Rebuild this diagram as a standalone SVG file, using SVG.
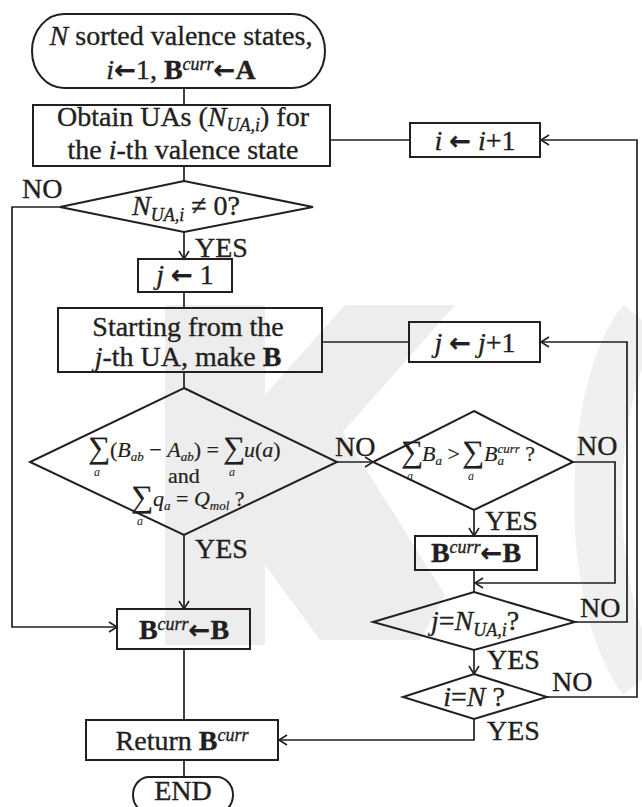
<svg xmlns="http://www.w3.org/2000/svg" width="642" height="807" viewBox="0 0 642 807">
<style>
text{font-family:"Liberation Serif","Times New Roman",serif;font-size:28px;fill:#231f20;stroke:#231f20;stroke-width:0.35}
.it{font-style:italic}
.b{font-weight:bold}
.ar{font-family:"DejaVu Sans",sans-serif;font-weight:bold;font-size:26px}
.nd{fill:none;stroke:#231f20;stroke-width:2}
.ln{fill:none;stroke:#231f20;stroke-width:1.7}
.wm{fill:#ededed;stroke:none}
.f{font-size:22px;stroke-width:0.2}
.sg{font-size:31px;stroke-width:0.2}
.lim{font-size:12px;font-style:italic;stroke-width:0}
</style>
<defs>
<marker id="ah" markerWidth="12" markerHeight="12" refX="10" refY="6" orient="auto" markerUnits="userSpaceOnUse">
<path d="M2,1 L10,6 L2,11" fill="none" stroke="#231f20" stroke-width="1.6"/>
</marker>
</defs>
<rect width="642" height="807" fill="#ffffff"/>
<g id="watermark">
<rect class="wm" x="165" y="305" width="100" height="340"/>
<polygon class="wm" points="265,395 345,305 455,305 265,520"/>
<polygon class="wm" points="265,470 335,420 445,595 420,640 320,640 265,565"/>
<path d="M642 320 C585 390 582 600 642 680" fill="none" stroke="#f0f0f0" stroke-width="48"/>
</g>
<g id="connectors">
<path class="ln" d="M184 88 V105"/>
<path class="ln" d="M184 166 V181"/>
<path class="ln" d="M184 232 V259" marker-end="url(#ah)"/>
<path class="ln" d="M184 292 V308"/>
<path class="ln" d="M184 372 V388"/>
<path class="ln" d="M184 535 V609" marker-end="url(#ah)"/>
<path class="ln" d="M337 462 H373" marker-end="url(#ah)"/>
<path class="ln" d="M60 207 H12 V627 H117" marker-end="url(#ah)"/>
<path class="ln" d="M474 510 V536" marker-end="url(#ah)"/>
<path class="ln" d="M573 462 H615 V583 H475" marker-end="url(#ah)"/>
<path class="ln" d="M474 570 V592"/>
<path class="ln" d="M474 650 V674" marker-end="url(#ah)"/>
<path class="ln" d="M575 622 H627 V342 H541" marker-end="url(#ah)"/>
<path class="ln" d="M409 342 H322"/>
<path class="ln" d="M547 697 H637 V140 H541" marker-end="url(#ah)"/>
<path class="ln" d="M410 140 H330"/>
<path class="ln" d="M474 719 V740 H279" marker-end="url(#ah)"/>
<path class="ln" d="M184 649 V720"/>
<path class="ln" d="M184 760 V777"/>
</g>
<g id="labels">
<text x="22" y="198">NO</text>
<text x="195" y="257">YES</text>
<text x="335" y="456">NO</text>
<text x="195" y="558">YES</text>
<text x="577" y="455">NO</text>
<text x="485" y="530">YES</text>
<text x="580" y="617">NO</text>
<text x="487" y="669">YES</text>
<text x="552" y="691">NO</text>
<text x="487" y="740">YES</text>
</g>
<g id="start">
<rect class="nd" x="32" y="14" width="293" height="74" rx="32" ry="37"/>
<text x="181" y="45" text-anchor="middle"><tspan class="it">N</tspan> sorted valence states,</text>
<text x="181" y="79" text-anchor="middle"><tspan class="it">i</tspan><tspan class="ar">←</tspan>1, <tspan class="b">B</tspan><tspan class="it" font-size="18" baseline-shift="9">curr</tspan><tspan class="ar">←</tspan><tspan class="b">A</tspan></text>
</g>
<g id="obtain">
<rect class="nd" x="33" y="105" width="297" height="61"/>
<text x="183" y="126" text-anchor="middle">Obtain UAs (<tspan class="it">N</tspan><tspan class="it" font-size="18" baseline-shift="-5">UA,i</tspan>) for</text>
<text x="183" y="159" text-anchor="middle">the <tspan class="it">i</tspan>-th valence state</text>
</g>
<g id="inc-i">
<rect class="nd" x="410" y="123" width="130" height="34"/>
<text x="475" y="150" text-anchor="middle"><tspan class="it">i</tspan> <tspan class="ar">←</tspan> <tspan class="it">i</tspan>+1</text>
</g>
<g id="check-nua">
<polygon class="nd" points="184,181 313,207 184,232 60,207"/>
<text x="186" y="215" text-anchor="middle"><tspan class="it">N</tspan><tspan class="it" font-size="18" baseline-shift="-6">UA,i</tspan> ≠ 0?</text>
</g>
<g id="j-init">
<rect class="nd" x="138" y="259" width="94" height="33"/>
<text x="185" y="284" text-anchor="middle"><tspan class="it">j</tspan> <tspan class="ar">←</tspan> 1</text>
</g>
<g id="make-b">
<rect class="nd" x="58" y="308" width="264" height="64"/>
<text x="188" y="336" text-anchor="middle">Starting from the</text>
<text x="188" y="366" text-anchor="middle"><tspan class="it">j</tspan>-th UA, make <tspan class="b">B</tspan></text>
</g>
<g id="inc-j">
<rect class="nd" x="409" y="322" width="131" height="40"/>
<text x="475" y="352" text-anchor="middle"><tspan class="it">j</tspan> <tspan class="ar">←</tspan> <tspan class="it">j</tspan>+1</text>
</g>
<g id="check-valid">
<polygon class="nd" points="184,388 337,462 184,535 30,462"/>
<text x="88" y="458" class="sg">∑</text>
<text x="97" y="476" class="lim" text-anchor="middle">a</text>
<text x="110" y="457" class="f">(<tspan class="it">B</tspan><tspan class="it" font-size="13" baseline-shift="-4">ab</tspan> − <tspan class="it">A</tspan><tspan class="it" font-size="13" baseline-shift="-4">ab</tspan>) =</text>
<text x="223" y="458" class="sg">∑</text>
<text x="232" y="476" class="lim" text-anchor="middle">a</text>
<text x="244" y="457" class="f"><tspan class="it">u</tspan>(<tspan class="it">a</tspan>)</text>
<text x="184" y="483" class="f" text-anchor="middle">and</text>
<text x="131" y="507" class="sg">∑</text>
<text x="140" y="525" class="lim" text-anchor="middle">a</text>
<text x="153" y="506" class="f"><tspan class="it">q</tspan><tspan class="it" font-size="13" baseline-shift="-4">a</tspan> = <tspan class="it">Q</tspan><tspan class="it" font-size="13" baseline-shift="-4">mol</tspan> ?</text>
</g>
<g id="check-better">
<polygon class="nd" points="474,411 573,462 474,510 373,462"/>
<text x="401" y="462" class="sg">∑</text>
<text x="410" y="480" class="lim" text-anchor="middle">a</text>
<text x="422" y="461" class="f"><tspan class="it">B</tspan><tspan class="it" font-size="13" baseline-shift="-4">a</tspan> &gt;</text>
<text x="462" y="462" class="sg">∑</text>
<text x="471" y="480" class="lim" text-anchor="middle">a</text>
<text x="484" y="461" class="f"><tspan class="it">B</tspan><tspan class="it" font-size="13" baseline-shift="-4">a</tspan><tspan class="it" font-size="13" baseline-shift="8" dx="-6.5">curr</tspan> ?</text>
</g>
<g id="update-right">
<rect class="nd" x="415" y="536" width="122" height="34"/>
<text x="476" y="562" text-anchor="middle"><tspan class="b">B</tspan><tspan class="it" font-size="18" baseline-shift="9">curr</tspan><tspan class="ar">←</tspan><tspan class="b">B</tspan></text>
</g>
<g id="check-j">
<polygon class="nd" points="474,592 575,622 474,650 373,622"/>
<text x="475" y="630" text-anchor="middle"><tspan class="it">j</tspan>=<tspan class="it">N</tspan><tspan class="it" font-size="18" baseline-shift="-6">UA,i</tspan>?</text>
</g>
<g id="check-i">
<polygon class="nd" points="474,674 547,697 474,719 403,697"/>
<text x="474" y="706" text-anchor="middle"><tspan class="it">i</tspan>=<tspan class="it">N</tspan> ?</text>
</g>
<g id="update-left">
<rect class="nd" x="117" y="609" width="133" height="40"/>
<text x="184" y="639" text-anchor="middle"><tspan class="b">B</tspan><tspan class="it" font-size="18" baseline-shift="9">curr</tspan><tspan class="ar">←</tspan><tspan class="b">B</tspan></text>
</g>
<g id="return">
<rect class="nd" x="86" y="720" width="192" height="40"/>
<text x="182" y="750" text-anchor="middle">Return <tspan class="b">B</tspan><tspan class="it" font-size="18" baseline-shift="9">curr</tspan></text>
</g>
<g id="end">
<rect class="nd" x="133" y="777" width="100" height="36" rx="16" ry="18"/>
<text x="183" y="800" text-anchor="middle">END</text>
</g>
</svg>
